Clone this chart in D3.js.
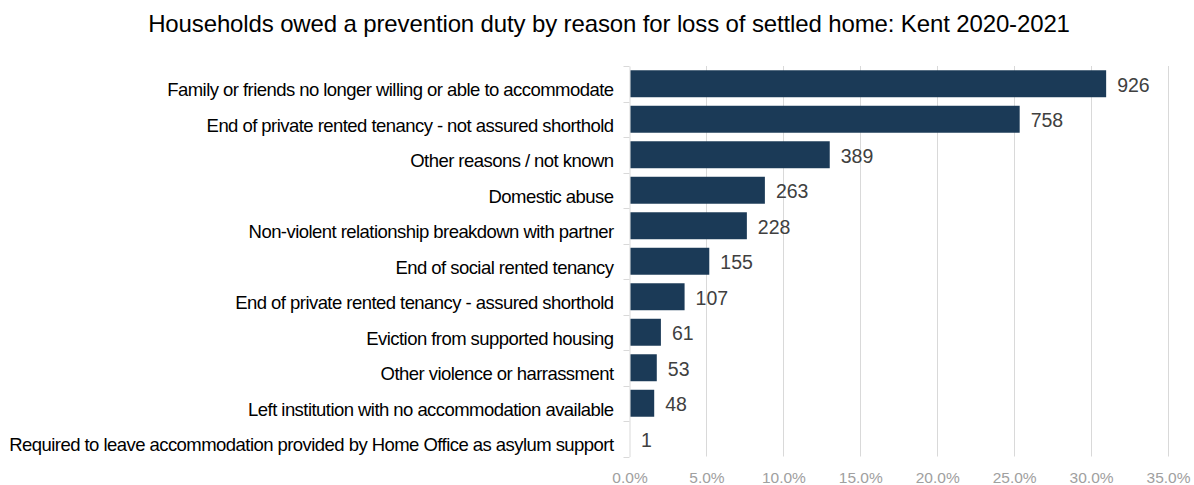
<!DOCTYPE html>
<html>
<head>
<meta charset="utf-8">
<script src="https://cdn.jsdelivr.net/npm/d3@7"></script>
<style>
  html, body { margin: 0; padding: 0; background: #fff; }
  svg { display: block; font-family: "Liberation Sans", Arial, sans-serif; }
</style>
</head>
<body>
<svg id="chart" width="1194" height="485"></svg>
<script>
// Reasons for loss of settled home and household counts
const categories = [
  "Family or friends no longer willing or able to accommodate",
  "End of private rented tenancy - not assured shorthold",
  "Other reasons / not known",
  "Domestic abuse",
  "Non-violent relationship breakdown with partner",
  "End of social rented tenancy",
  "End of private rented tenancy - assured shorthold",
  "Eviction from supported housing",
  "Other violence or harrassment",
  "Left institution with no accommodation available",
  "Required to leave accommodation provided by Home Office as asylum support"
];
const counts = [926, 758, 389, 263, 228, 155, 107, 61, 53, 48, 1];
const xTicks = [0, 0.05, 0.10, 0.15, 0.20, 0.25, 0.30, 0.35];
const titleText = "Households owed a prevention duty by reason for loss of settled home: Kent 2020-2021";

const total = d3.sum(counts);
const rows = categories.map((c, i) => ({ cat: c, n: counts[i], share: counts[i] / total }));

const svg = d3.select("#chart");
const plotTop = 66, plotBottom = 456.5;

const x = d3.scaleLinear().domain([0, 0.35]).range([629.5, 1168]);
const y = d3.scaleBand().domain(categories).range([plotTop, plotBottom])
  .paddingInner(0.24).paddingOuter(0.12);

// Title
svg.append("text")
  .attr("x", 609).attr("y", 31.5)
  .attr("text-anchor", "middle")
  .attr("font-size", 24)
  .attr("letter-spacing", -0.13)
  .attr("fill", "#000")
  .text(titleText);

// Vertical gridlines
svg.append("g").selectAll("line")
  .data(xTicks.slice(1))
  .join("line")
  .attr("x1", d => Math.round(x(d)) + 0.5).attr("x2", d => Math.round(x(d)) + 0.5)
  .attr("y1", plotTop).attr("y2", plotBottom)
  .attr("stroke", "#d9d9d9").attr("stroke-width", 1);

// X axis tick labels
const xAxis = d3.axisBottom(x).tickValues(xTicks).tickFormat(d3.format(".1%")).tickSize(0).tickPadding(0);
const gx = svg.append("g").attr("transform", "translate(0,483)").call(xAxis);
gx.select(".domain").remove();
gx.selectAll("text").attr("font-size", 15.5).attr("fill", "#a0a0a0").attr("dy", 0)
  .style("font-family", "'Liberation Sans', Arial, sans-serif");

// Category axis with tick marks at band boundaries
const axisX = 629.5;
const yAxis = d3.axisLeft(y).tickSize(0).tickPadding(16);
const gy = svg.append("g").attr("transform", `translate(${axisX},0)`).call(yAxis);
gy.select(".domain").attr("stroke", "#d9d9d9");
gy.selectAll("text").attr("font-size", 18.5).attr("letter-spacing", -0.55)
  .attr("fill", "#000").attr("dy", "0.68em")
  .style("font-family", "'Liberation Sans', Arial, sans-serif");
const step = y.step();
const bounds = d3.range(categories.length + 1).map(i => plotTop + i * step);
svg.append("g").selectAll("line")
  .data(bounds)
  .join("line")
  .attr("x1", axisX - 6).attr("x2", axisX)
  .attr("y1", d => Math.round(d) + 0.5).attr("y2", d => Math.round(d) + 0.5)
  .attr("stroke", "#d9d9d9");

// Bars
svg.append("g").selectAll("rect")
  .data(rows)
  .join("rect")
  .attr("x", x(0) + 1)
  .attr("y", d => y(d.cat))
  .attr("width", d => Math.max(0, x(d.share) - x(0) - 1))
  .attr("height", y.bandwidth())
  .attr("fill", "#1b3a57");

// Value labels
svg.append("g").selectAll("text")
  .data(rows)
  .join("text")
  .attr("x", d => x(d.share) + 11)
  .attr("y", d => y(d.cat) + y.bandwidth() / 2)
  .attr("dy", "0.4em")
  .attr("font-size", 19.5)
  .attr("fill", "#404040")
  .text(d => d.n);
</script>
</body>
</html>
